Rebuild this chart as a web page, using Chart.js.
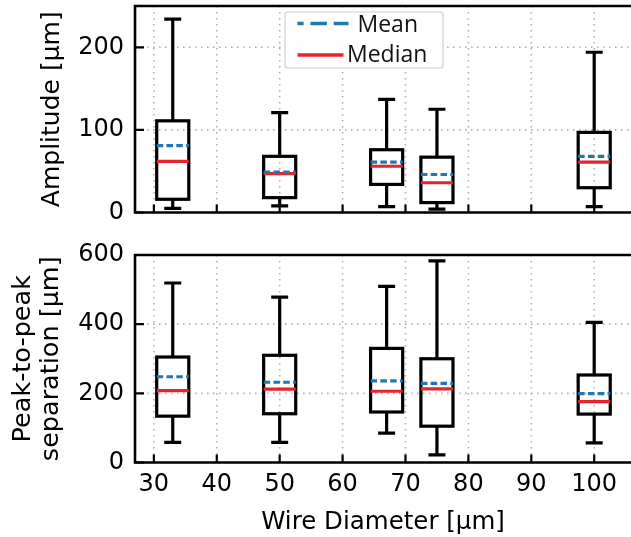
<!DOCTYPE html>
<html>
<head>
<meta charset="utf-8">
<script src="https://cdn.jsdelivr.net/npm/chart.js@4.4.1/dist/chart.umd.min.js"></script>
<style>
  html, body { margin: 0; padding: 0; background: #fff; }
  #wrap { position: relative; width: 631px; height: 537px; overflow: hidden; }
  .panel { position: absolute; left: 0; }
</style>
</head>
<body>
<div id="wrap">
  <canvas id="amp" class="panel" width="631" height="240" style="top:0px"></canvas>
  <canvas id="sep" class="panel" width="631" height="297" style="top:240px"></canvas>
</div>
<script>
// Wire diameters [um] at which each distribution was measured
const diameters = [33, 50, 67, 75, 100];
const xTicks = [30, 40, 50, 60, 70, 80, 90, 100];

// Amplitude [um] box statistics
const ampWhiskerLow  = [5, 8, 7, 4, 7];
const ampQ1          = [16, 18, 34, 12, 30];
const ampMedian      = [62, 47, 56, 36, 61];
const ampMean        = [81, 49, 61, 46, 68];
const ampQ3          = [111, 68, 76, 67, 97];
const ampWhiskerHigh = [234, 121, 137, 125, 194];
const ampTicks = [0, 100, 200];

// Peak-to-peak separation [um] box statistics
const sepWhiskerLow  = [58, 58, 85, 22, 57];
const sepQ1          = [134, 141, 146, 105, 140];
const sepMedian      = [208, 212, 206, 213, 176];
const sepMean        = [248, 232, 236, 229, 199];
const sepQ3          = [305, 310, 330, 300, 253];
const sepWhiskerHigh = [519, 478, 509, 583, 405];
const sepTicks = [0, 200, 400, 600];

const BOX_HALF = 2.55;   // half box width, data units
const CAP_HALF = 1.35;   // half whisker-cap width, data units
const BLUE = '#1f77b4';
const RED = '#e3262d';
const tickFont = { family: 'DejaVu Sans', size: 24 };

// Horizontal segment per box, separated by gaps
function segments(values) {
  const pts = [];
  diameters.forEach((x, i) => {
    pts.push({ x: x - BOX_HALF, y: values[i] });
    pts.push({ x: x + BOX_HALF, y: values[i] });
    pts.push({ x: x + BOX_HALF, y: null });
  });
  return pts;
}

const boxPlugin = {
  id: 'boxFrame',
  beforeDatasetsDraw(chart) {
    const { ctx, chartArea: a, scales: { x, y } } = chart;
    const st = chart.options.plugins.boxFrame;
    ctx.save();
    // dotted grid
    ctx.strokeStyle = '#b3b3b3';
    ctx.lineWidth = 1.6;
    ctx.setLineDash([1.6, 4.4]);
    x.ticks.forEach(t => {
      const px = x.getPixelForValue(t.value);
      ctx.beginPath(); ctx.moveTo(px, a.top); ctx.lineTo(px, a.bottom); ctx.stroke();
    });
    y.ticks.forEach(t => {
      const py = y.getPixelForValue(t.value);
      ctx.beginPath(); ctx.moveTo(a.left, py); ctx.lineTo(a.right, py); ctx.stroke();
    });
    ctx.setLineDash([]);
    // boxes and whiskers
    ctx.strokeStyle = '#000';
    ctx.lineWidth = 3.2;
    diameters.forEach((d, i) => {
      const cx = x.getPixelForValue(d);
      const l = x.getPixelForValue(d - BOX_HALF), r = x.getPixelForValue(d + BOX_HALF);
      const cl = x.getPixelForValue(d - CAP_HALF), cr = x.getPixelForValue(d + CAP_HALF);
      const q1 = y.getPixelForValue(st.q1[i]), q3 = y.getPixelForValue(st.q3[i]);
      const lo = y.getPixelForValue(st.lo[i]), hi = y.getPixelForValue(st.hi[i]);
      ctx.strokeRect(l, q3, r - l, q1 - q3);
      ctx.beginPath();
      ctx.moveTo(cx, q3); ctx.lineTo(cx, hi);
      ctx.moveTo(cl, hi); ctx.lineTo(cr, hi);
      ctx.moveTo(cx, q1); ctx.lineTo(cx, lo);
      ctx.moveTo(cl, lo); ctx.lineTo(cr, lo);
      ctx.stroke();
    });
    ctx.restore();
  },
  afterDatasetsDraw(chart) {
    const { ctx, chartArea: a, scales: { x, y } } = chart;
    const st = chart.options.plugins.boxFrame;
    ctx.save();
    // inward tick marks
    ctx.strokeStyle = '#000';
    ctx.lineWidth = 2.2;
    ctx.beginPath();
    x.ticks.forEach(t => {
      const px = x.getPixelForValue(t.value);
      ctx.moveTo(px, a.bottom); ctx.lineTo(px, a.bottom - 8);
    });
    y.ticks.forEach(t => {
      const py = y.getPixelForValue(t.value);
      ctx.moveTo(a.left, py); ctx.lineTo(a.left + 9, py);
    });
    ctx.stroke();
    // spines (the right one lies past the canvas edge)
    ctx.lineWidth = 2.6;
    ctx.lineCap = 'square';
    ctx.beginPath();
    ctx.moveTo(chart.width + 2, a.top);
    ctx.lineTo(a.left, a.top);
    ctx.lineTo(a.left, a.bottom);
    ctx.lineTo(chart.width + 2, a.bottom);
    ctx.stroke();
    // legend
    if (st.legend) {
      const [mean, median] = chart.data.datasets;
      const bx = 285, by = 12, bw = 158, bh = 56;
      ctx.fillStyle = 'rgba(255,255,255,0.92)';
      ctx.strokeStyle = '#cfcfcf';
      ctx.lineWidth = 1.2;
      ctx.beginPath();
      ctx.roundRect(bx, by, bw, bh, 3);
      ctx.fill(); ctx.stroke();
      ctx.lineWidth = 3.4;
      ctx.lineCap = 'butt';
      ctx.strokeStyle = mean.borderColor;
      ctx.setLineDash([16.5, 6.8]);
      ctx.lineDashOffset = 10.4;
      ctx.beginPath(); ctx.moveTo(297.5, 23.5); ctx.lineTo(348.5, 23.5); ctx.stroke();
      ctx.setLineDash([]);
      ctx.strokeStyle = median.borderColor;
      ctx.beginPath(); ctx.moveTo(297.5, 55); ctx.lineTo(343.5, 55); ctx.stroke();
      ctx.fillStyle = '#111';
      ctx.font = '23px "Open Sans"';
      ctx.textBaseline = 'middle';
      ctx.fillText(mean.label, 357.5, 25);
      ctx.fillText(median.label, 347, 55);
    }
    ctx.restore();
  }
};

function makePanel(id, cfg) {
  return new Chart(document.getElementById(id), {
    type: 'line',
    data: {
      datasets: [
        { label: 'Mean', data: segments(cfg.mean), borderColor: BLUE, borderWidth: 3.2,
          borderDash: [6.5, 3.3], pointRadius: 0, spanGaps: false, borderCapStyle: 'butt' },
        { label: 'Median', data: segments(cfg.median), borderColor: RED, borderWidth: 3.2,
          pointRadius: 0, spanGaps: false }
      ]
    },
    options: {
      responsive: false,
      animation: false,
      devicePixelRatio: 1,
      layout: { padding: { top: cfg.padTop, right: 0, left: 0, bottom: 0 } },
      plugins: {
        legend: { display: false },
        tooltip: { enabled: false },
        boxFrame: { q1: cfg.q1, q3: cfg.q3, lo: cfg.lo, hi: cfg.hi, legend: cfg.legend }
      },
      scales: {
        x: {
          type: 'linear', min: 27, max: 105.85,
          afterBuildTicks: s => { s.ticks = xTicks.map(v => ({ value: v })); },
          afterFit: s => { s.height = cfg.xHeight; s.paddingLeft = 0; s.paddingRight = 0; },
          grid: { display: false, drawTicks: false },
          border: { display: false },
          ticks: { display: cfg.showX, font: tickFont, color: '#000', padding: 8, maxRotation: 0 },
          title: { display: cfg.showX, text: 'Wire Diameter [μm]',
                   font: { family: 'DejaVu Sans', size: 24.5 }, color: '#000',
                   padding: { top: 0, bottom: 0 } }
        },
        y: {
          min: cfg.yMin, max: cfg.yMax,
          afterBuildTicks: s => { s.ticks = cfg.yTicks.map(v => ({ value: v })); },
          afterFit: s => { s.width = 135; s.paddingTop = 0; s.paddingBottom = 0; },
          grid: { display: false, drawTicks: false },
          border: { display: false },
          ticks: { font: tickFont, color: '#000', padding: 11 },
          title: { display: true, text: cfg.title, font: cfg.titleFont, color: '#000',
                   padding: { top: cfg.titlePad, bottom: 0 } }
        }
      }
    },
    plugins: [boxPlugin]
  });
}

makePanel('amp', {
  mean: ampMean, median: ampMedian, q1: ampQ1, q3: ampQ3, lo: ampWhiskerLow, hi: ampWhiskerHigh,
  yMin: 0, yMax: 250, yTicks: ampTicks, title: 'Amplitude [μm]',
  titleFont: { family: 'DejaVu Sans', size: 25, lineHeight: 1.2 }, titlePad: 37.5,
  padTop: 6, xHeight: 27.5, showX: false, legend: true
});

makePanel('sep', {
  mean: sepMean, median: sepMedian, q1: sepQ1, q3: sepQ3, lo: sepWhiskerLow, hi: sepWhiskerHigh,
  yMin: 0, yMax: 600, yTicks: sepTicks, title: ['Peak-to-peak', 'separation [μm]'],
  titleFont: { family: 'DejaVu Sans', size: 25.5, lineHeight: 1.1 }, titlePad: 9,
  padTop: 15, xHeight: 74.5, showX: true, legend: false
});
</script>
</body>
</html>
